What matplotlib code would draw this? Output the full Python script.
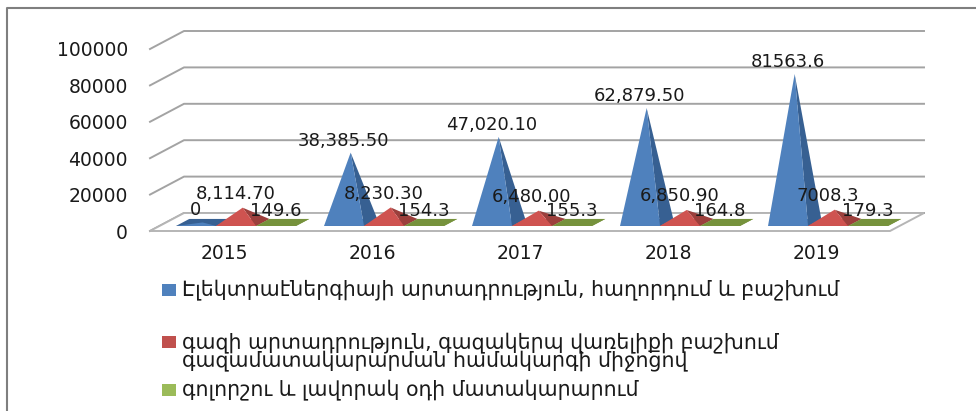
import matplotlib
matplotlib.use("Agg")
import matplotlib.pyplot as plt
from matplotlib.lines import Line2D
from matplotlib.patches import Polygon, Rectangle

years = ['2015', '2016', '2017', '2018', '2019']
power = [0, 38385.5, 47020.1, 62879.5, 81563.6]
gas = [8114.7, 8230.3, 6480.0, 6850.9, 7008.3]
steam = [149.6, 154.3, 155.3, 164.8, 179.3]
power_labels = ['0', '38,385.50', '47,020.10', '62,879.50', '81563.6']
gas_labels = ['8,114.70', '8,230.30', '6,480.00', '6,850.90', '7008.3']
steam_labels = ['149.6', '154.3', '155.3', '164.8', '179.3']
y_ticks = [0, 20000, 40000, 60000, 80000, 100000]
legend_labels = [
    'Էլեկտրաէներգիայի արտադրություն, հաղորդում և բաշխում',
    'գազի արտադրություն, գազակերպ վառելիքի բաշխում\nգազամատակարարման համակարգի միջոցով',
    'գոլորշու և լավորակ օդի մատակարարում',
]

W, H = 976, 411
TEXT = '#1a1a1a'
GRID = '#a3a3a3'

# depth of the fake 3d box, in data units (34 px right, 18 px up)
DX = 34 / 148
DY = 18 / 182 * 100000
BAR_W = 40 / 148
BAR_START = 16.5 / 148
D0, D1 = 0.28, 0.67


def fx(px):
    return px / W


def fy(px):
    return 1 - px / H


def proj(x, v, d):
    return x + d * DX, v + d * DY


def pyramid(ax, x, value, front, side, base):
    fl = proj(x, 0, D0)
    fr = proj(x + BAR_W, 0, D0)
    bl = proj(x, 0, D1)
    br = proj(x + BAR_W, 0, D1)
    apex = proj(x + BAR_W / 2, value, (D0 + D1) / 2)
    ax.add_patch(Polygon([fl, fr, br, bl], fc=base, ec='none', clip_on=False, zorder=3))
    ax.add_patch(Polygon([fr, br, apex], fc=side, ec='none', clip_on=False, zorder=3))
    ax.add_patch(Polygon([fl, fr, apex], fc=front, ec='none', clip_on=False, zorder=3))
    return apex


fig = plt.figure(figsize=(W / 100, H / 100), dpi=100)
ax = fig.add_axes([fx(150), fy(231), (890 - 150) / W, (231 - 49) / H])
ax.set_xlim(0, 5)
ax.set_ylim(0, 100000)
ax.axis('off')

# walls and floor
for t in y_ticks:
    ax.plot([0, DX, 5 + DX], [t, t + DY, t + DY], color=GRID, lw=1.4, clip_on=False, zorder=1)
    ax.text(-0.15, t, str(t), ha='right', va='center_baseline', fontsize=13.5, color=TEXT, clip_on=False)
ax.add_patch(Polygon([(0, 0), (5, 0), (5 + DX, DY), (DX, DY)], fc='white', ec='#b5b5b5',
                     lw=1.4, clip_on=False, zorder=2))

for i, year in enumerate(years):
    ax.text(i + 0.5, -7000, year, ha='center', va='top', fontsize=13.5, color=TEXT)
    x = i + BAR_START
    p1 = pyramid(ax, x, power[i], '#4f81bd', '#376092', '#376092')
    p2 = pyramid(ax, x + BAR_W, gas[i], '#cf5350', '#9c3f3c', '#9c3f3c')
    p3 = pyramid(ax, x + 2 * BAR_W, steam[i], '#76923c', '#76923c', '#76923c')
    for apex, label, up in ((p1, power_labels[i], 14), (p2, gas_labels[i], 15.5), (p3, steam_labels[i], 13)):
        ax.annotate(label, apex, xytext=(-7, up), textcoords='offset pixels', ha='center',
                    va='center_baseline', fontsize=13, color=TEXT, zorder=5, annotation_clip=False)

# outer chart frame, cut off by the crop on the right and bottom
fig.add_artist(Line2D([fx(7), fx(7), fx(976)], [fy(411), fy(8), fy(8)], color='#7f7f7f', lw=1.5))

# legend
legend_y = [290, 351.5, 390]
legend_colors = ['#4f81bd', '#c0504d', '#9bbb59']
marker_y = [290, 342, 390]
for label, ly, my, c in zip(legend_labels, legend_y, marker_y, legend_colors):
    fig.add_artist(Rectangle((fx(162), fy(my + 6)), 14 / W, 12 / H, fc=c, ec='none',
                             transform=fig.transFigure))
    fig.text(fx(182), fy(ly), label, ha='left', va='center', fontsize=14.8, color=TEXT,
             linespacing=0.85)

fig.savefig('out.png', dpi=100)
